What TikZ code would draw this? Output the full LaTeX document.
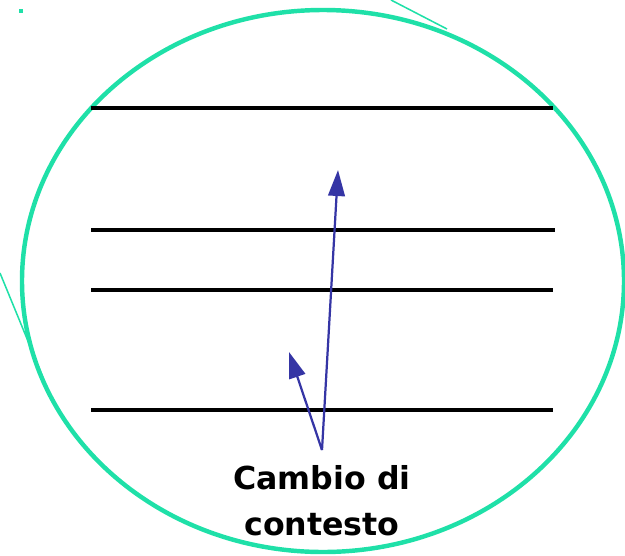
\documentclass[tikz,border=0pt]{standalone}
\usepackage{tikz}
\usetikzlibrary{arrows.meta}
\usepackage{fontspec}
\setmainfont{DejaVu Sans}
\definecolor{ctxgreen}{HTML}{1FE0A8}
\definecolor{ctxnavy}{HTML}{3535A5}

\begin{document}
\begin{tikzpicture}[x=0.03cm, y=-0.03cm]
        \useasboundingbox (0,0) rectangle (625,555);
        \draw[ctxgreen, line width=3.8pt] (323,281) ellipse [x radius=301, y radius=271];
        % scraps of green at the edges
        \fill[ctxgreen] (19,9) rectangle (23,13);
        \draw[ctxgreen, line width=1.3pt] (391,0) -- (447,29);
        \draw[ctxgreen, line width=1.3pt] (0,273) -- (44,380);
        % the four levels
        \foreach \y/\xe in {108/553, 230/555, 290/553, 410/553}
          \draw[black, line width=3.6pt] (91,\y) -- (\xe,\y);
        \node[font=\bfseries\fontsize{27}{39}\selectfont, align=center] (cambio) at (322,501) {Cambio di\\contesto};
        \coordinate (src) at (322,450);
        \coordinate (tipup) at (338,170);
        \coordinate (tipdown) at (289,352);
        \draw[-{Triangle[length=7.8mm, width=5mm]}, ctxnavy, line width=1.9pt] (src) -- (tipup);
        \draw[-{Triangle[length=7.8mm, width=5mm]}, ctxnavy, line width=1.9pt] (src) -- (tipdown);
      \end{tikzpicture}
\end{document}
